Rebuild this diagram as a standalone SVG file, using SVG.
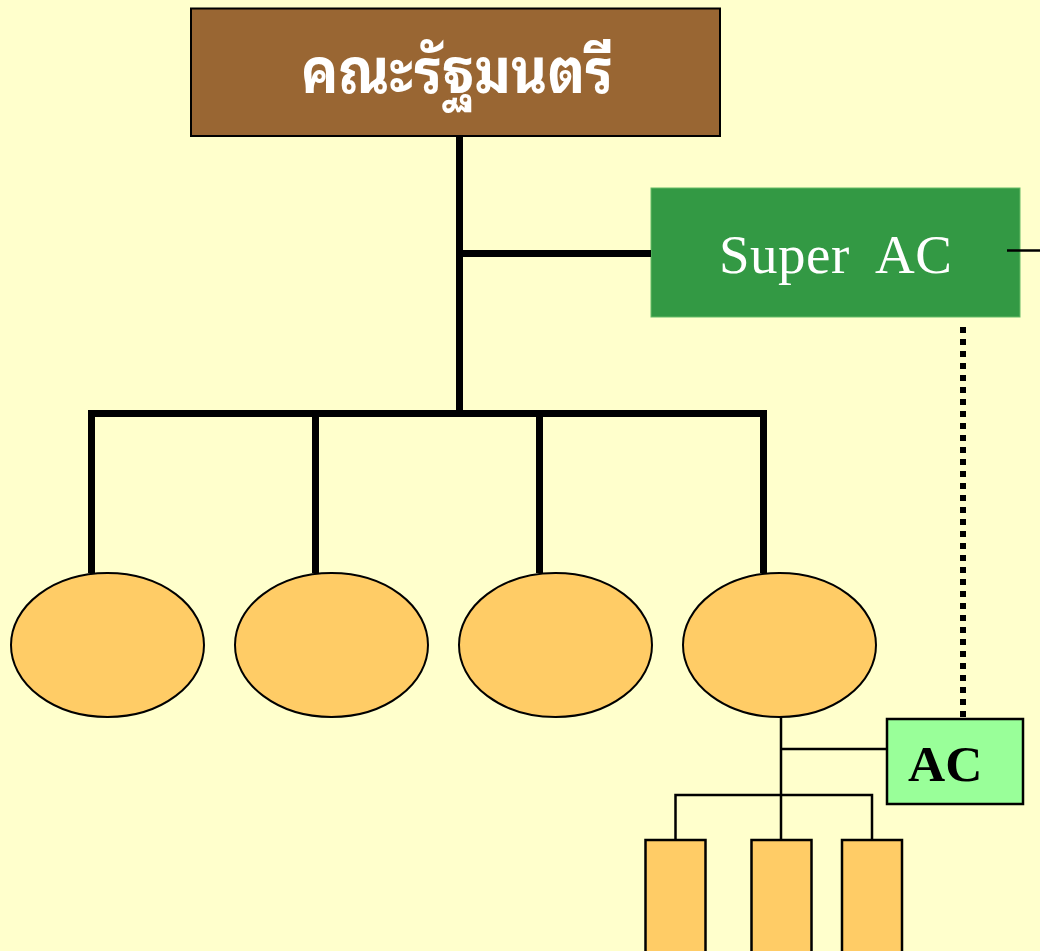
<svg xmlns="http://www.w3.org/2000/svg" width="1040" height="951" viewBox="0 0 1040 951">
<style>
.thick{stroke:#000;stroke-width:7;fill:none}
.thin{stroke:#000;stroke-width:2.5;fill:none}
.ell{fill:#ffcc66;stroke:#000;stroke-width:2}
.small{fill:#ffcc66;stroke:#000;stroke-width:2.5}
.thai{font-family:"Noto Sans Thai Looped","Noto Serif Thai","Noto Sans Thai","Loma","Garuda","Liberation Sans",sans-serif;font-weight:bold;fill:#fff}
.serif{font-family:"Liberation Serif","Times New Roman",serif}
</style>
<rect x="0" y="0" width="1040" height="951" fill="#ffffcc"/>
<g id="cabinet">
<rect x="191" y="8.5" width="529" height="127.5" fill="#996633" stroke="#000" stroke-width="2"/>
<text class="thai" x="457" y="93" font-size="62" text-anchor="middle" textLength="312" lengthAdjust="spacingAndGlyphs">คณะรัฐมนตรี</text>
</g>
<g id="super-ac">
<rect x="651" y="188" width="369" height="129" fill="#339944" stroke="#66bb66" stroke-width="1"/>
<text class="serif" x="719" y="273" font-size="55" fill="#fff" style="white-space:pre" textLength="233" lengthAdjust="spacing">Super  AC</text>
</g>
<g id="ellipses">
<ellipse id="e1" class="ell" cx="107.5" cy="645" rx="96.5" ry="72"/>
<ellipse id="e2" class="ell" cx="331.5" cy="645" rx="96.5" ry="72"/>
<ellipse id="e3" class="ell" cx="555.5" cy="645" rx="96.5" ry="72"/>
<ellipse id="e4" class="ell" cx="779.5" cy="645" rx="96.5" ry="72"/>
</g>
<g id="ac">
<rect x="887" y="719" width="136" height="85" fill="#99ff99" stroke="#000" stroke-width="2.5"/>
<text class="serif" x="908" y="781" font-size="51.5" font-weight="bold" fill="#000">AC</text>
</g>
<g id="units">
<rect id="u1" class="small" x="645.5" y="840" width="60" height="115"/>
<rect id="u2" class="small" x="751.5" y="840" width="60" height="115"/>
<rect id="u3" class="small" x="842" y="840" width="60" height="115"/>
</g>
<g id="connectors">
<line class="thick" x1="459.5" y1="137" x2="459.5" y2="417"/>
<line class="thick" x1="459.5" y1="253.5" x2="651" y2="253.5"/>
<line class="thick" x1="88" y1="413.5" x2="767" y2="413.5"/>
<line class="thick" x1="91.5" y1="413" x2="91.5" y2="573"/>
<line class="thick" x1="315.5" y1="413" x2="315.5" y2="573"/>
<line class="thick" x1="539.5" y1="413" x2="539.5" y2="573"/>
<line class="thick" x1="763.5" y1="413" x2="763.5" y2="573"/>
<line class="thin" x1="1007" y1="250.5" x2="1040" y2="250.5"/>
<line x1="963" y1="327" x2="963" y2="717" stroke="#000" stroke-width="6" stroke-dasharray="6 6"/>
<line class="thin" x1="781" y1="717" x2="781" y2="840"/>
<line class="thin" x1="781" y1="749" x2="887" y2="749"/>
<polyline class="thin" points="675.5,840 675.5,795 872,795 872,840"/>
</g>
</svg>
